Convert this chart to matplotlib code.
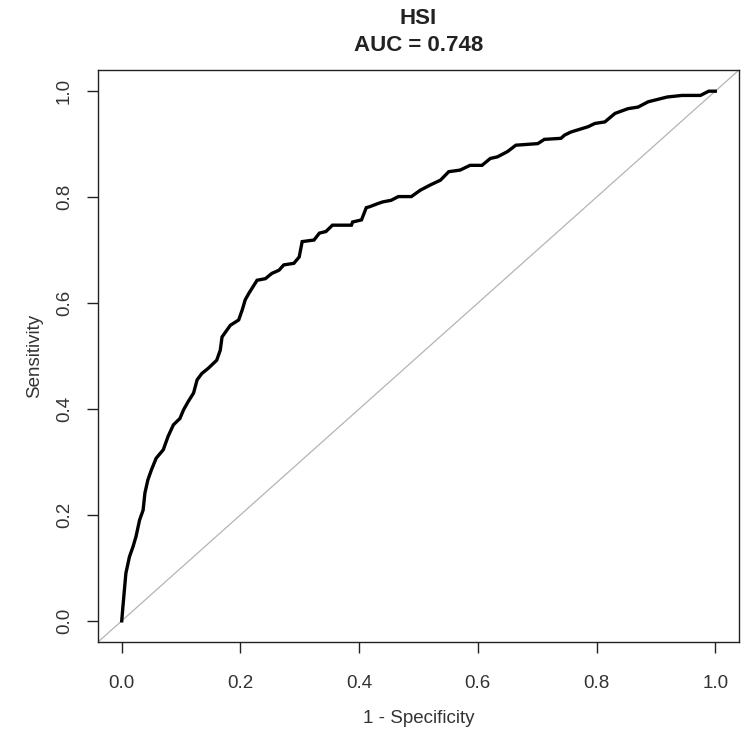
import matplotlib.pyplot as plt

# ROC curve points (1 - specificity, sensitivity)
fpr = [0, 0.002, 0.005, 0.007, 0.013, 0.019, 0.024, 0.030, 0.036, 0.039,
       0.044, 0.050, 0.058, 0.070, 0.078, 0.087, 0.098, 0.104, 0.112, 0.121,
       0.127, 0.135, 0.146, 0.160, 0.166, 0.169, 0.183, 0.197, 0.203, 0.208,
       0.214, 0.228, 0.242, 0.253, 0.265, 0.273, 0.290, 0.299, 0.304, 0.324,
       0.333, 0.344, 0.355, 0.387, 0.389, 0.404, 0.412, 0.418, 0.432, 0.440,
       0.454, 0.466, 0.488, 0.503, 0.520, 0.537, 0.551, 0.570, 0.587, 0.607,
       0.621, 0.633, 0.650, 0.664, 0.701, 0.712, 0.740, 0.746, 0.757, 0.786,
       0.797, 0.814, 0.831, 0.853, 0.870, 0.887, 0.919, 0.944, 0.975, 0.989,
       1.0]
tpr = [0, 0.027, 0.065, 0.090, 0.121, 0.140, 0.159, 0.190, 0.209, 0.241,
       0.266, 0.285, 0.307, 0.323, 0.348, 0.370, 0.382, 0.398, 0.414, 0.430,
       0.455, 0.467, 0.477, 0.492, 0.511, 0.536, 0.558, 0.568, 0.587, 0.606,
       0.618, 0.643, 0.646, 0.656, 0.662, 0.672, 0.675, 0.687, 0.716, 0.719,
       0.732, 0.735, 0.747, 0.747, 0.753, 0.757, 0.780, 0.782, 0.788, 0.791,
       0.794, 0.801, 0.801, 0.813, 0.823, 0.832, 0.848, 0.851, 0.860, 0.860,
       0.873, 0.876, 0.886, 0.898, 0.901, 0.909, 0.911, 0.917, 0.923, 0.933,
       0.939, 0.942, 0.958, 0.967, 0.970, 0.980, 0.989, 0.992, 0.992, 1.0,
       1.0]
ticks = [0.0, 0.2, 0.4, 0.6, 0.8, 1.0]
title = "HSI\nAUC = 0.748"

plt.rcParams['font.family'] = ['Liberation Sans', 'DejaVu Sans']

fig = plt.figure(figsize=(7.5, 7.37), dpi=100)
ax = fig.add_axes([98 / 750, 1 - 642 / 737, 641 / 750, 572 / 737])

# reference diagonal across the whole box, like abline(0, 1)
ax.axline((0, 0), (1, 1), color="#b4b4b4", lw=0.9, zorder=1)
ax.plot(fpr, tpr, color="black", lw=2.4, solid_joinstyle="miter", zorder=2)

ax.set_xlim(-0.04, 1.04)
ax.set_ylim(-0.04, 1.04)
ax.set_xticks(ticks)
ax.set_yticks(ticks)
ax.set_xticklabels([f"{t:.1f}" for t in ticks])
ax.set_yticklabels([f"{t:.1f}" for t in ticks], rotation=90, va="center")

for s in ax.spines.values():
    s.set_linewidth(1.0)
    s.set_color("#222222")
ax.tick_params(direction="out", length=8, width=1.0, color="#222222",
               labelsize=13.5, labelcolor="#333333")
ax.tick_params(axis="x", pad=16)
ax.tick_params(axis="y", pad=10)

ax.set_xlabel("1 - Specificity", fontsize=13.5, color="#333333", labelpad=13)
ax.set_ylabel("Sensitivity", fontsize=13.5, color="#333333", labelpad=9)
ax.set_title(title, fontsize=16, fontweight="bold", color="#222222",
             pad=14, linespacing=1.35)

fig.savefig("out.png", dpi=100)
